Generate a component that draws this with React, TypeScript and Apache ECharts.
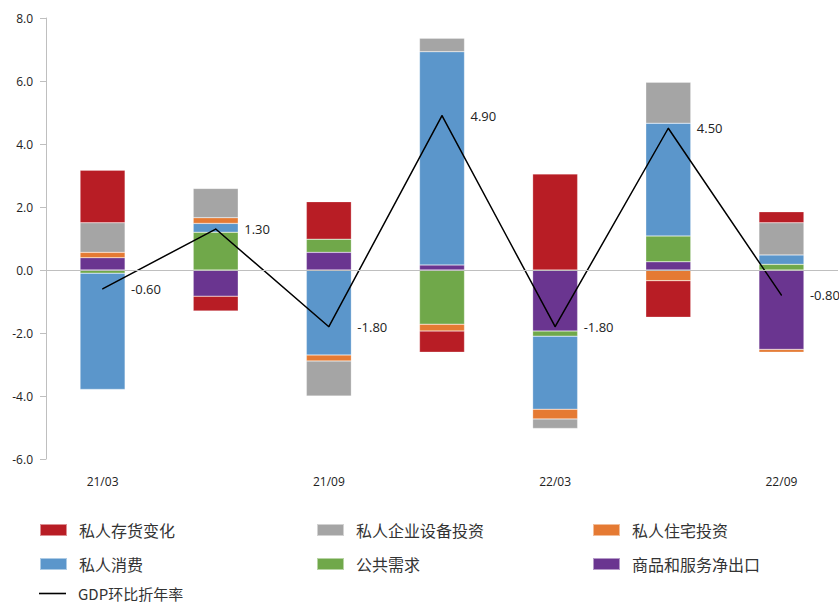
import React, { useEffect, useRef } from "react";
import * as echarts from "echarts";

const categories = ["21/03", "21/06", "21/09", "21/12", "22/03", "22/06", "22/09"];
const netExports = [0.39, -0.83, 0.56, 0.16, -1.94, 0.26, -2.52];
const government = [-0.1, 1.2, 0.42, -1.72, -0.16, 0.82, 0.18];
const consumption = [-3.69, 0.28, -2.7, 6.77, -2.32, 3.58, 0.3];
const residential = [0.17, 0.18, -0.19, -0.22, -0.31, -0.34, -0.09];
const equipment = [0.94, 0.93, -1.11, 0.43, -0.3, 1.3, 1.02];
const inventory = [1.67, -0.47, 1.19, -0.67, 3.05, -1.16, 0.35];
const gdp = [-0.6, 1.3, -1.8, 4.9, -1.8, 4.5, -0.8];

const CJK = '"Noto Sans CJK SC", "Noto Sans", sans-serif';
const NUM = '"Open Sans", "Noto Sans", sans-serif';

export default function App() {
  const ref = useRef<HTMLDivElement>(null);
  useEffect(() => {
    if (!ref.current) return;
    const chart = echarts.init(ref.current, null, { renderer: "svg" });

    const barSeries = [
      { name: "商品和服务净出口", data: netExports, color: "#6A3590" },
      { name: "公共需求", data: government, color: "#70A84A" },
      { name: "私人消费", data: consumption, color: "#5B96CB" },
      { name: "私人住宅投资", data: residential, color: "#E57A33" },
      { name: "私人企业设备投资", data: equipment, color: "#A5A5A5" },
      { name: "私人存货变化", data: inventory, color: "#B81D25" },
    ].map((s, i) => ({
      name: s.name,
      type: "bar",
      stack: "total",
      barWidth: 45,
      data: s.data,
      itemStyle: { color: s.color, borderColor: "rgba(255,255,255,0.5)", borderWidth: 0.5 },
      ...(i === 0
        ? {
            markLine: {
              silent: true,
              symbol: "none",
              z: 10,
              label: { show: false },
              lineStyle: { color: "#BFBFBF", width: 1, type: "solid" },
              data: [{ yAxis: 0 }],
            },
          }
        : {}),
    }));

    const legendPos: Array<[string, number, number, string]> = [
      ["私人存货变化", 39, 522, "rect"],
      ["私人企业设备投资", 316, 522, "rect"],
      ["私人住宅投资", 592, 522, "rect"],
      ["私人消费", 39, 556, "rect"],
      ["公共需求", 316, 556, "rect"],
      ["商品和服务净出口", 592, 556, "rect"],
      ["GDP环比折年率", 39, 586, "line"],
    ];

    const legends = legendPos.map(([name, left, top, kind]) => ({
      data: [name],
      left,
      top,
      padding: 0,
      itemGap: 0,
      itemWidth: 27,
      itemHeight: kind === "line" ? 1.6 : 12,
      icon: "rect",
      selectedMode: false,
      textStyle: {
        fontSize: kind === "line" ? 15 : 16,
        fontFamily: CJK,
        color: "#333",
        lineHeight: 14,
        padding: [0, 0, 0, 7],
      },
    }));

    chart.setOption({
      animation: false,
      backgroundColor: "#fff",
      grid: { left: 46, right: 1, top: 18, bottom: 146, containLabel: false },
      legend: legends,
      xAxis: {
        type: "category",
        data: categories,
        axisLine: { show: false, onZero: false },
        axisTick: { show: false },
        axisLabel: {
          interval: 1,
          margin: 16,
          fontSize: 12,
          fontFamily: NUM,
          color: "#222",
        },
      },
      yAxis: {
        type: "value",
        min: -6,
        max: 8,
        interval: 2,
        splitLine: { show: false },
        axisLine: { show: true, lineStyle: { color: "#BFBFBF", width: 1 } },
        axisTick: { show: true, length: 6, lineStyle: { color: "#BFBFBF" } },
        axisLabel: {
          margin: 13,
          fontSize: 12,
          fontFamily: NUM,
          color: "#222",
          formatter: (v: number) => v.toFixed(1),
        },
      },
      series: [
        ...barSeries,
        {
          name: "GDP环比折年率",
          type: "line",
          data: gdp,
          symbol: "circle",
          symbolSize: 1,
          z: 5,
          itemStyle: { color: "#000" },
          lineStyle: { color: "#000", width: 1.5 },
          label: {
            show: true,
            position: "right",
            distance: 28,
            offset: [0, 0],
            fontSize: 13,
            fontFamily: NUM,
            color: "#222",
            formatter: (p: any) => Number(p.value).toFixed(2),
          },
        },
      ],
    });
    return () => chart.dispose();
  }, []);

  return (
    <div
      ref={ref}
      style={{ position: "absolute", left: 0, top: 0, width: 839, height: 605 }}
    />
  );
}
